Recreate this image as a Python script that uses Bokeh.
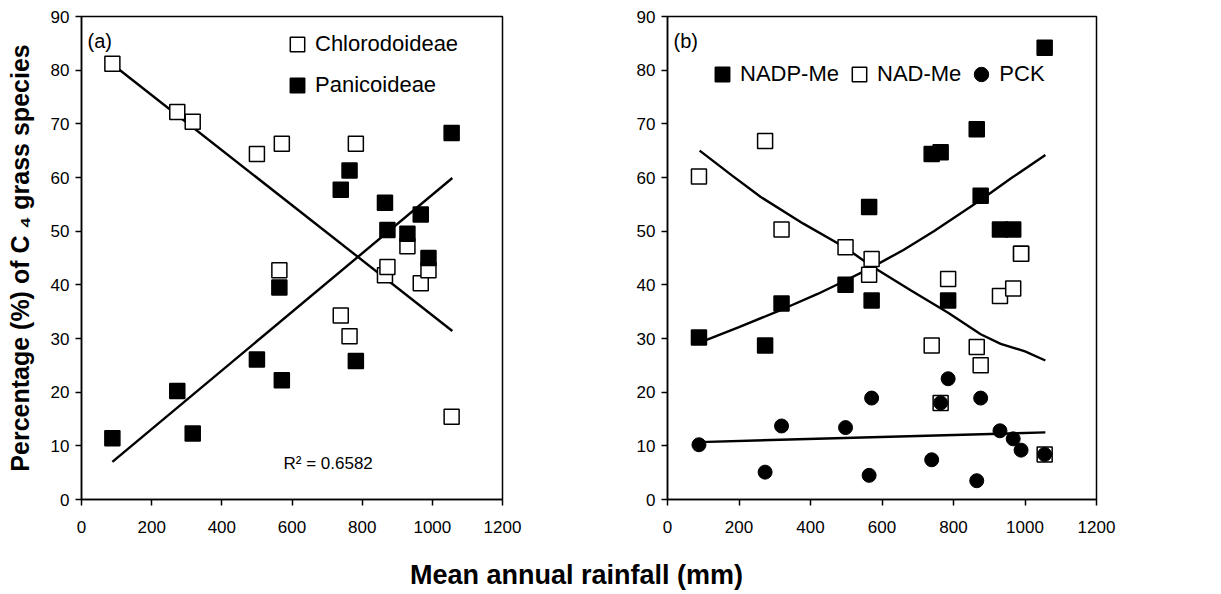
from bokeh.plotting import figure
from bokeh.models import Range1d, Label, Legend, LegendItem, FixedTicker
from bokeh.layouts import column, row
from bokeh.embed import file_html
from bokeh.resources import INLINE

FONT = "Liberation Sans"

# ---------------- data ----------------
x_ticks = [0, 200, 400, 600, 800, 1000, 1200]
y_ticks = [0, 10, 20, 30, 40, 50, 60, 70, 80, 90]

rain_a = [88, 273, 317, 500, 564, 571, 739, 764, 782, 865, 872, 929, 967, 989, 1055]
chloridoideae = [81.2, 72.2, 70.4, 64.4, 42.7, 66.3, 34.3, 30.4, 66.3, 41.8, 43.3, 47.2, 40.3, 42.7, 15.4]
panicoideae = [11.4, 20.2, 12.3, 26.1, 39.5, 22.2, 57.7, 61.3, 25.8, 55.3, 50.2, 49.5, 53.1, 45.0, 68.3]

fit_a_x = [88, 1057]
chl_fit = [81.1, 31.4]
pan_fit = [7.0, 59.9]

rain_b = [88, 273, 319, 498, 564, 571, 739, 764, 785, 865, 876, 930, 967, 989, 1055]
nadp_me = [30.2, 28.7, 36.5, 40.0, 54.5, 37.1, 64.4, 64.7, 37.1, 69.0, 56.6, 50.3, 50.3, 45.8, 84.2]
nad_me = [60.2, 66.8, 50.3, 47.0, 41.9, 44.8, 28.7, 18.0, 41.1, 28.4, 25.0, 37.9, 39.3, 45.8, 8.4]
pck = [10.2, 5.1, 13.7, 13.4, 4.5, 18.9, 7.4, 18.0, 22.5, 3.5, 18.9, 12.8, 11.3, 9.2, 8.4]

nadp_fit_x = [88, 200, 320, 420, 498, 570, 660, 745, 876, 960, 1057]
nadp_fit = [29.2, 32.1, 35.4, 38.3, 40.8, 43.2, 46.5, 50.0, 55.8, 59.8, 64.2]
nad_fit_x = [90, 180, 260, 380, 498, 568, 680, 785, 876, 932, 1000, 1057]
nad_fit = [65.0, 60.4, 56.4, 51.4, 46.9, 43.6, 39.0, 34.8, 30.8, 29.0, 27.6, 25.9]
pck_fit_x = [88, 1057]
pck_fit = [10.7, 12.5]

SQ = 15
CI = 14


def make_panel(width, bl, br):
    p = figure(width=width, height=540, x_range=Range1d(0, 1200), y_range=Range1d(0, 90),
               output_backend="svg", toolbar_location=None,
               min_border_left=bl, min_border_right=br, min_border_top=16, min_border_bottom=41)
    p.xgrid.visible = False
    p.ygrid.visible = False
    p.outline_line_color = "black"
    p.outline_line_width = 1.5
    p.outline_line_alpha = 1
    p.background_fill_color = "white"
    p.border_fill_color = "white"
    for ax, ticks in ((p.xaxis, x_ticks), (p.yaxis, y_ticks)):
        ax.ticker = FixedTicker(ticks=ticks)
        ax.minor_tick_line_color = None
        ax.major_tick_in = 0
        ax.major_tick_out = 6
        ax.axis_line_color = "black"
        ax.axis_line_width = 1.5
        ax.major_tick_line_color = "black"
        ax.major_tick_line_width = 1.5
        ax.major_label_text_font = FONT
        ax.major_label_text_font_size = "17px"
        ax.major_label_text_color = "black"
    p.xaxis.major_label_standoff = 15
    p.yaxis.major_label_standoff = 6
    return p


# ---------------- panel (a) ----------------
pa = make_panel(600, 81, 98)
pa.line(fit_a_x, chl_fit, line_color="black", line_width=2.4)
pa.line(fit_a_x, pan_fit, line_color="black", line_width=2.4)
r_chl = pa.scatter(rain_a, chloridoideae, marker="square", size=SQ, fill_color="white",
                   line_color="black", line_width=1.5)
r_pan = pa.scatter(rain_a, panicoideae, marker="square", size=SQ, fill_color="black",
                   line_color="black", line_width=1.5)
pa.yaxis.axis_label = "Percentage (%) of C \u2084 grass species"
pa.yaxis.axis_label_text_font = FONT
pa.yaxis.axis_label_text_font_style = "bold"
pa.yaxis.axis_label_text_font_size = "25px"
pa.yaxis.axis_label_text_color = "black"
pa.yaxis.axis_label_standoff = 14

leg_a = Legend(items=[LegendItem(label="Chlorodoideae", renderers=[r_chl]),
                      LegendItem(label="Panicoideae", renderers=[r_pan])],
               location=(198, 396), orientation="vertical",
               border_line_color=None, background_fill_alpha=0,
               label_text_font=FONT, label_text_font_size="22px", label_text_color="black",
               glyph_width=36, glyph_height=36, label_standoff=-9, spacing=5,
               padding=0, margin=0)
pa.add_layout(leg_a)

pa.add_layout(Label(x=6, y=448, x_units="screen", y_units="screen", text="(a)",
                    text_font=FONT, text_font_size="20px", text_color="black"))
pa.add_layout(Label(x=202, y=27, x_units="screen", y_units="screen", text="R\u00b2 = 0.6582",
                    text_font=FONT, text_font_size="17px", text_color="black"))

# ---------------- panel (b) ----------------
pb = make_panel(621, 67, 125)
pb.line(nadp_fit_x, nadp_fit, line_color="black", line_width=2.4)
pb.line(nad_fit_x, nad_fit, line_color="black", line_width=2.4)
pb.line(pck_fit_x, pck_fit, line_color="black", line_width=2.4)
r_nadp = pb.scatter(rain_b, nadp_me, marker="square", size=SQ, fill_color="black",
                    line_color="black", line_width=1.5)
r_nad = pb.scatter(rain_b, nad_me, marker="square", size=SQ, fill_color="white",
                   line_color="black", line_width=1.5)
r_pck = pb.scatter(rain_b, pck, marker="circle", size=CI, fill_color="black",
                   line_color="black", line_width=1)

leg_b = Legend(items=[LegendItem(label="NADP-Me", renderers=[r_nadp]),
                      LegendItem(label="NAD-Me", renderers=[r_nad]),
                      LegendItem(label="PCK", renderers=[r_pck])],
               location=(37, 407), orientation="horizontal",
               border_line_color=None, background_fill_alpha=0,
               label_text_font=FONT, label_text_font_size="22px", label_text_color="black",
               glyph_width=36, glyph_height=36, label_standoff=-6, spacing=2,
               padding=0, margin=0)
pb.add_layout(leg_b)
pb.add_layout(Label(x=6, y=448, x_units="screen", y_units="screen", text="(b)",
                    text_font=FONT, text_font_size="20px", text_color="black"))

# ---------------- common x label ----------------
px = figure(width=1221, height=54, output_backend="svg", toolbar_location=None,
            x_range=Range1d(0, 1221), y_range=Range1d(0, 54),
            min_border=0)
px.axis.visible = False
px.grid.visible = False
px.outline_line_color = None
px.add_layout(Label(x=576, y=20, x_units="screen", y_units="screen",
                    text="Mean annual rainfall (mm)", text_align="center", text_baseline="middle",
                    text_font=FONT, text_font_style="bold", text_font_size="27px",
                    text_color="black"))

layout = column(row(pa, pb), px)
open("out.html", "w").write(file_html(layout, INLINE))
